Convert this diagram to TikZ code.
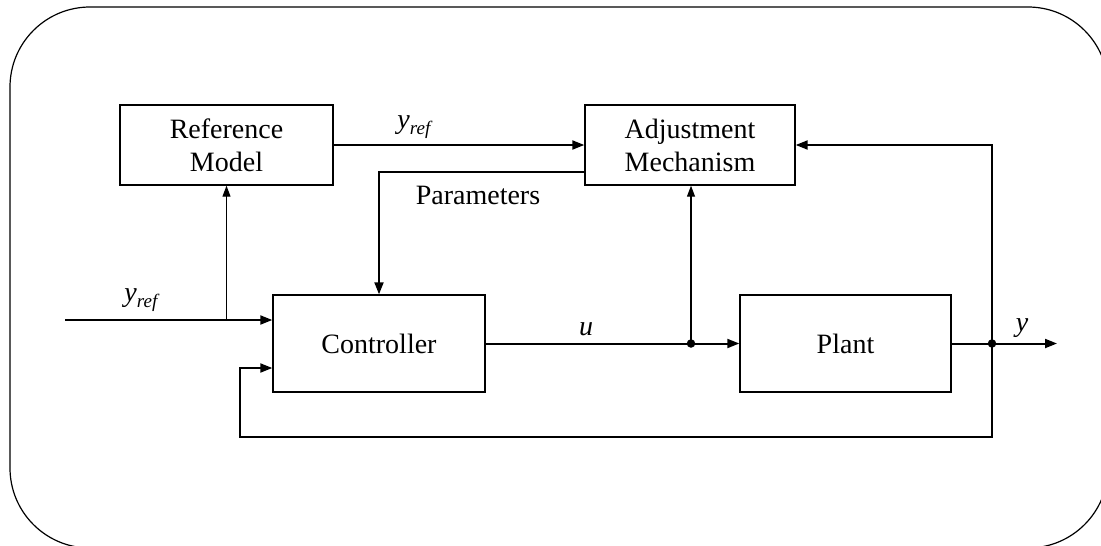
\documentclass[tikz,border=0pt]{standalone}
\usepackage{fontspec}
\setmainfont{Liberation Serif}
\usetikzlibrary{arrows.meta}
\newcommand{\yref}{\textit{y}\raisebox{-6pt}{\fontsize{19}{20}\selectfont\textit{ref}}}
\begin{document}
\begin{tikzpicture}[x=1pt,y=-1pt,
  blk/.style={draw,line width=1.4pt,inner sep=0pt,align=center,
              font=\fontsize{28}{33}\selectfont},
  sig/.style={line width=2pt,-{Triangle[length=12pt,width=9pt]}},
  lightsig/.style={line width=1.2pt,-{Triangle[length=11pt,width=8pt]}},
  lbl/.style={inner sep=0pt,font=\fontsize{28}{33}\selectfont},
  dot/.style={circle,fill,inner sep=0pt,minimum size=8.5pt}]
  % frame
  \useasboundingbox (0,0) rectangle (1101,546);
  \clip (0,0) rectangle (1101,546);
  \draw[line width=1.2pt,rounded corners=80pt] (10,7) rectangle (1108,548);

  % blocks
  \node[blk,minimum width=213pt,minimum height=80pt] (ref) at (226.5,145) {Reference\\Model};
  \node[blk,minimum width=210pt,minimum height=80pt] (adj) at (690,145) {Adjustment\\Mechanism};
  \node[blk,minimum width=212pt,minimum height=97pt] (ctrl) at (379,343.5) {Controller};
  \node[blk,minimum width=211pt,minimum height=97pt] (plant) at (845.5,343.5) {Plant};

  % junctions and free ends
  \coordinate (in) at (65,320);
  \coordinate (br) at (226.5,320);
  \coordinate (pa) at (379,172);
  \node[dot] (du) at (691,343.5) {};
  \node[dot] (dy) at (992,343.5) {};
  \coordinate (out) at (1057,343.5);
  \coordinate (fbt) at (992,145);
  \coordinate (fbl) at (240,437);
  \coordinate (fbi) at (240,368);

  % signals
  \draw[sig] (in) -- (ctrl.west |- in);
  \draw[lightsig] (br) -- (ref.south);
  \draw[sig] (ref.east) -- (adj.west);
  \draw[sig] (adj.west |- pa) -- (pa) -- (ctrl.north);
  \draw[sig] (ctrl.east) -- (plant.west);
  \draw[lightsig] (du.center) -- (adj.south -| du);
  \draw[sig] (plant.east) -- (out);
  \draw[sig] (dy.center) -- (fbt) -- (adj.east);
  \draw[sig] (dy.center) |- (fbl) |- (ctrl.west |- fbi);

  % labels
  \node[lbl] (l1) at (142,300) {\yref};
  \node[lbl] (l2) at (415,127) {\yref};
  \node[lbl] (l3) at (478,195) {Parameters};
  \node[lbl] (l4) at (586,329) {\textit{u}};
  \node[lbl] (l5) at (1022,328) {\textit{y}};
\end{tikzpicture}
\end{document}
